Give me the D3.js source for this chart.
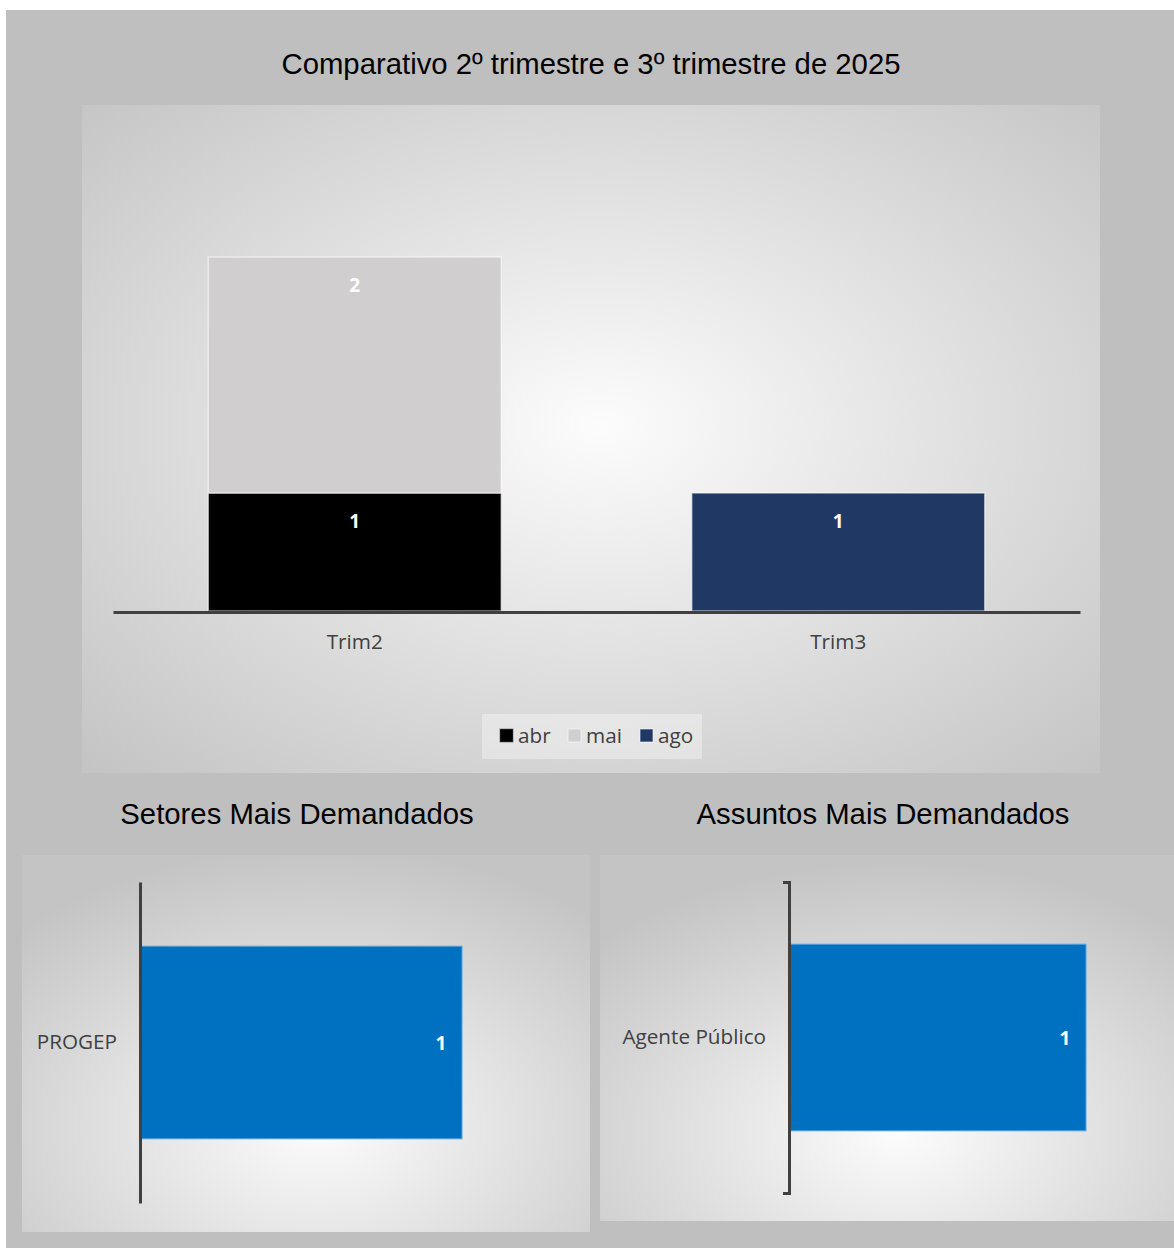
<!DOCTYPE html>
<html>
<head>
<meta charset="utf-8">
<script src="https://cdn.jsdelivr.net/npm/d3@7"></script>
<style>
  html, body { margin: 0; padding: 0; background: #ffffff; }
  svg { display: block; }
</style>
</head>
<body>
<svg id="chart" width="1174" height="1248"></svg>
<script>
// Quarterly comparison (stacked by month)
const trimestres = ["Trim2", "Trim3"];
const meses = ["abr", "mai", "ago"];
const abr = [1, 0];
const mai = [2, 0];
const ago = [0, 1];
const corMeses = ["#000000", "#d0cece", "#1f3864"];

// Most requested sectors / subjects
const setores = ["PROGEP"];
const setoresValores = [1];
const assuntos = ["Agente Público"];
const assuntosValores = [1];

const svg = d3.select("#chart");
const defs = svg.append("defs");

function radial(id, cx, cy, r) {
  const g = defs.append("radialGradient").attr("id", id)
    .attr("cx", cx).attr("cy", cy).attr("r", r);
  g.append("stop").attr("offset", "0%").attr("stop-color", "#fcfcfc");
  g.append("stop").attr("offset", "100%").attr("stop-color", "#c4c4c4");
}
radial("gTop", "51%", "48%", "72%");
radial("gLeft", "52%", "72%", "74%");
radial("gRight", "52%", "76%", "74%");

// Page background
svg.append("rect").attr("x", 6).attr("y", 10).attr("width", 1168).attr("height", 1238).attr("fill", "#bfbfbf");

// Panels
svg.append("rect").attr("x", 82).attr("y", 105).attr("width", 1018).attr("height", 668).attr("fill", "url(#gTop)");
svg.append("rect").attr("x", 22).attr("y", 855).attr("width", 568).attr("height", 377).attr("fill", "url(#gLeft)");
svg.append("rect").attr("x", 600).attr("y", 855).attr("width", 574).attr("height", 366).attr("fill", "url(#gRight)");

const titleFont = "'Liberation Sans', Arial, sans-serif";
const bodyFont = "'Open Sans', Lato, sans-serif";
const labelSize = 20.7;

// Titles
const titulos = [
  [591, 74, "Comparativo 2º trimestre e 3º trimestre de 2025"],
  [297, 824, "Setores Mais Demandados"],
  [883, 824, "Assuntos Mais Demandados"]
];
svg.append("g").selectAll("text").data(titulos).join("text")
  .attr("x", d => d[0]).attr("y", d => d[1]).attr("text-anchor", "middle")
  .attr("font-family", titleFont).attr("font-size", 29.3).attr("fill", "#000")
  .text(d => d[2]);

// ---- Stacked column chart ----
const x = d3.scaleBand().domain(trimestres).range([113, 1080])
  .paddingInner(0.394).paddingOuter(0.197);
const y = d3.scaleLinear().domain([0, 4]).range([611, 139]);

const tabela = trimestres.map((t, i) => ({ trim: t, abr: abr[i], mai: mai[i], ago: ago[i] }));
const series = d3.stack().keys(meses)(tabela);
const cor = d3.scaleOrdinal().domain(meses).range(corMeses);

const camadas = svg.append("g").selectAll("g").data(series).join("g")
  .attr("fill", d => cor(d.key));
camadas.selectAll("rect").data(d => d.filter(p => p[1] - p[0] > 0)).join("rect")
  .attr("x", d => x(d.data.trim))
  .attr("y", d => y(d[1]))
  .attr("width", x.bandwidth())
  .attr("height", d => y(d[0]) - y(d[1]))
  .attr("stroke", "#ffffff").attr("stroke-opacity", 0.55).attr("stroke-width", 1.5);
camadas.selectAll("text").data(d => d.filter(p => p[1] - p[0] > 0)).join("text")
  .attr("x", d => x(d.data.trim) + x.bandwidth() / 2)
  .attr("y", d => y(d[1]) + 35)
  .attr("text-anchor", "middle")
  .attr("font-family", bodyFont).attr("font-weight", "bold").attr("font-size", 19)
  .attr("fill", "#ffffff")
  .text(d => d[1] - d[0]);

const eixoX = svg.append("g").attr("transform", "translate(0,612)")
  .call(d3.axisBottom(x).tickSize(0).tickPadding(22));
eixoX.select(".domain").attr("stroke", "#404040").attr("stroke-width", 3);
eixoX.selectAll("text").attr("font-family", bodyFont).attr("font-size", labelSize).attr("fill", "#404040");

// Legend
const leg = svg.append("g");
leg.append("rect").attr("x", 482).attr("y", 714).attr("width", 220).attr("height", 45)
  .attr("fill", "#ffffff").attr("fill-opacity", 0.35);
const legX = [500, 568, 640];
meses.forEach((m, i) => {
  leg.append("rect").attr("x", legX[i]).attr("y", 729).attr("width", 13).attr("height", 13)
    .attr("fill", cor(m)).attr("stroke", i === 0 ? "#555" : "#ffffff").attr("stroke-opacity", 0.6).attr("stroke-width", 1);
  leg.append("text").attr("x", legX[i] + 18).attr("y", 743)
    .attr("font-family", bodyFont).attr("font-size", labelSize).attr("fill", "#404040").text(m);
});

// ---- Horizontal bar charts ----
function barrasH(cats, vals, axisX, top, bottom, barEnd, outer) {
  const yb = d3.scaleBand().domain(cats).range([top, bottom]).padding(0.25);
  const xv = d3.scaleLinear().domain([0, d3.max(vals)]).range([axisX, barEnd]);
  const g = svg.append("g");
  g.selectAll("rect").data(cats).join("rect")
    .attr("x", xv(0) + 1)
    .attr("y", c => yb(c))
    .attr("width", (c, i) => xv(vals[i]) - xv(0) - 1)
    .attr("height", yb.bandwidth())
    .attr("fill", "#0070c0").attr("stroke", "#5ba3e0").attr("stroke-width", 1);
  g.selectAll("text.val").data(cats).join("text").attr("class", "val")
    .attr("x", (c, i) => xv(vals[i]) - 21)
    .attr("y", c => yb(c) + yb.bandwidth() / 2 + 7)
    .attr("text-anchor", "middle")
    .attr("font-family", bodyFont).attr("font-weight", "bold").attr("font-size", 19)
    .attr("fill", "#ffffff")
    .text((c, i) => vals[i]);
  const ax = svg.append("g").attr("transform", `translate(${axisX},0)`)
    .call(d3.axisLeft(yb).tickSizeInner(0).tickSizeOuter(outer).tickPadding(23));
  ax.select(".domain").attr("stroke", "#404040").attr("stroke-width", 3);
  ax.selectAll("text").attr("font-family", bodyFont).attr("font-size", labelSize).attr("fill", "#404040");
}
barrasH(setores, setoresValores, 140, 882, 1203, 462, 0);
barrasH(assuntos, assuntosValores, 789, 882, 1193, 1086, 6);
</script>
</body>
</html>
